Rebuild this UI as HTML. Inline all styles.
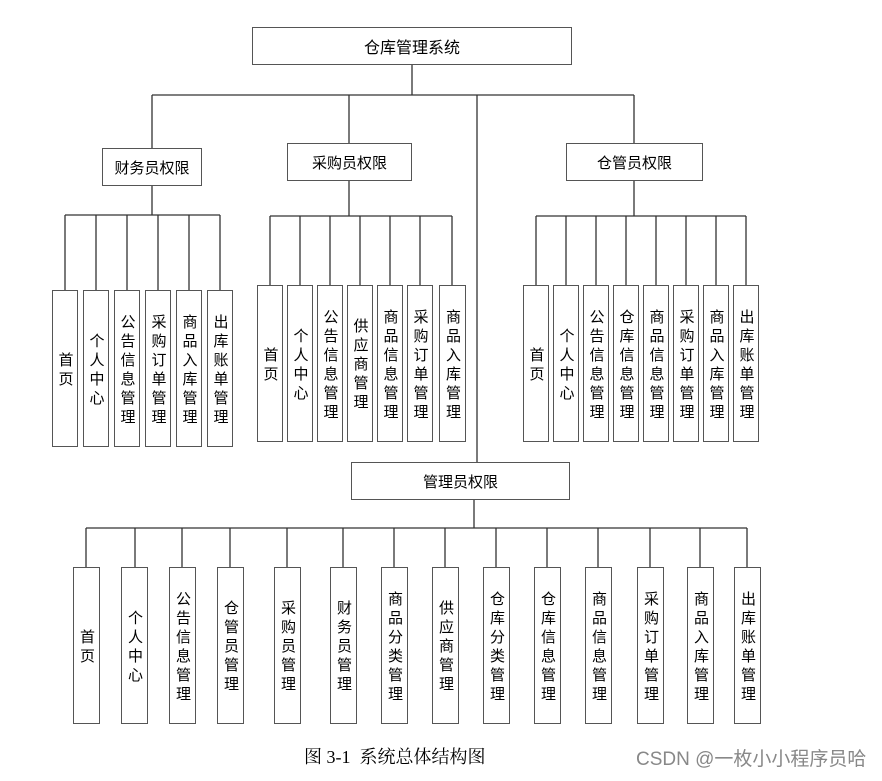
<!DOCTYPE html>
<html><head><meta charset="utf-8"><style>
body{margin:0;background:#fff;}
#c{position:relative;width:882px;height:781px;overflow:hidden;font-family:"Liberation Sans","Noto Sans CJK SC",sans-serif;color:#000;}
.b{position:absolute;box-sizing:border-box;border:1.6px solid #555;background:#fff;display:flex;align-items:center;justify-content:center;font-size:15px;}
.v{position:absolute;box-sizing:border-box;border:1.6px solid #555;background:#fff;display:flex;align-items:center;justify-content:center;font-size:15px;}
.v span{writing-mode:vertical-rl;text-orientation:upright;letter-spacing:4px;line-height:1;margin-top:4px;}
svg{position:absolute;left:0;top:0;}
</style></head><body><div id="c">
<svg width="882" height="781" stroke="#333" stroke-width="1.3" fill="none">
<line x1="412" y1="65" x2="412" y2="95"/>
<line x1="152" y1="95" x2="634" y2="95"/>
<line x1="152" y1="95" x2="152" y2="148"/>
<line x1="349" y1="95" x2="349" y2="143"/>
<line x1="477" y1="95" x2="477" y2="462"/>
<line x1="634" y1="95" x2="634" y2="143"/>
<line x1="152" y1="185" x2="152" y2="215"/>
<line x1="65" y1="215" x2="220" y2="215"/>
<line x1="65" y1="215" x2="65" y2="290"/><line x1="96" y1="215" x2="96" y2="290"/><line x1="127" y1="215" x2="127" y2="290"/><line x1="158" y1="215" x2="158" y2="290"/><line x1="189" y1="215" x2="189" y2="290"/><line x1="220" y1="215" x2="220" y2="290"/>
<line x1="349" y1="180" x2="349" y2="216"/>
<line x1="270" y1="216" x2="452" y2="216"/>
<line x1="270" y1="216" x2="270" y2="285"/><line x1="300" y1="216" x2="300" y2="285"/><line x1="330" y1="216" x2="330" y2="285"/><line x1="360" y1="216" x2="360" y2="285"/><line x1="390" y1="216" x2="390" y2="285"/><line x1="420" y1="216" x2="420" y2="285"/><line x1="452" y1="216" x2="452" y2="285"/>
<line x1="634" y1="180" x2="634" y2="216"/>
<line x1="536" y1="216" x2="746" y2="216"/>
<line x1="536" y1="216" x2="536" y2="285"/><line x1="566" y1="216" x2="566" y2="285"/><line x1="596" y1="216" x2="596" y2="285"/><line x1="626" y1="216" x2="626" y2="285"/><line x1="656" y1="216" x2="656" y2="285"/><line x1="686" y1="216" x2="686" y2="285"/><line x1="716" y1="216" x2="716" y2="285"/><line x1="746" y1="216" x2="746" y2="285"/>
<line x1="474" y1="499" x2="474" y2="528"/>
<line x1="86" y1="528" x2="747" y2="528"/>
<line x1="86" y1="528" x2="86" y2="567"/><line x1="135" y1="528" x2="135" y2="567"/><line x1="182" y1="528" x2="182" y2="567"/><line x1="230" y1="528" x2="230" y2="567"/><line x1="287" y1="528" x2="287" y2="567"/><line x1="343" y1="528" x2="343" y2="567"/><line x1="394" y1="528" x2="394" y2="567"/><line x1="445" y1="528" x2="445" y2="567"/><line x1="496" y1="528" x2="496" y2="567"/><line x1="547" y1="528" x2="547" y2="567"/><line x1="598" y1="528" x2="598" y2="567"/><line x1="650" y1="528" x2="650" y2="567"/><line x1="700" y1="528" x2="700" y2="567"/><line x1="747" y1="528" x2="747" y2="567"/>
</svg>

<div class="b" style="left:252px;top:27px;width:320px;height:38px;font-size:16px;">仓库管理系统</div>
<div class="b" style="left:102px;top:148px;width:100px;height:38px;">财务员权限</div>
<div class="b" style="left:287px;top:143px;width:125px;height:38px;">采购员权限</div>
<div class="b" style="left:566px;top:143px;width:137px;height:38px;">仓管员权限</div>
<div class="b" style="left:351px;top:462px;width:219px;height:38px;">管理员权限</div>

<div class="v" style="left:52px;top:290px;width:26px;height:157px;"><span>首页</span></div>
<div class="v" style="left:83px;top:290px;width:26px;height:157px;"><span>个人中心</span></div>
<div class="v" style="left:114px;top:290px;width:26px;height:157px;"><span>公告信息管理</span></div>
<div class="v" style="left:145px;top:290px;width:26px;height:157px;"><span>采购订单管理</span></div>
<div class="v" style="left:176px;top:290px;width:26px;height:157px;"><span>商品入库管理</span></div>
<div class="v" style="left:207px;top:290px;width:26px;height:157px;"><span>出库账单管理</span></div>

<div class="v" style="left:257px;top:285px;width:26px;height:157px;"><span>首页</span></div>
<div class="v" style="left:287px;top:285px;width:26px;height:157px;"><span>个人中心</span></div>
<div class="v" style="left:317px;top:285px;width:26px;height:157px;"><span>公告信息管理</span></div>
<div class="v" style="left:347px;top:285px;width:26px;height:157px;"><span>供应商管理</span></div>
<div class="v" style="left:377px;top:285px;width:26px;height:157px;"><span>商品信息管理</span></div>
<div class="v" style="left:407px;top:285px;width:26px;height:157px;"><span>采购订单管理</span></div>
<div class="v" style="left:439px;top:285px;width:27px;height:157px;"><span>商品入库管理</span></div>

<div class="v" style="left:523px;top:285px;width:26px;height:157px;"><span>首页</span></div>
<div class="v" style="left:553px;top:285px;width:26px;height:157px;"><span>个人中心</span></div>
<div class="v" style="left:583px;top:285px;width:26px;height:157px;"><span>公告信息管理</span></div>
<div class="v" style="left:613px;top:285px;width:26px;height:157px;"><span>仓库信息管理</span></div>
<div class="v" style="left:643px;top:285px;width:26px;height:157px;"><span>商品信息管理</span></div>
<div class="v" style="left:673px;top:285px;width:26px;height:157px;"><span>采购订单管理</span></div>
<div class="v" style="left:703px;top:285px;width:26px;height:157px;"><span>商品入库管理</span></div>
<div class="v" style="left:733px;top:285px;width:26px;height:157px;"><span>出库账单管理</span></div>

<div class="v" style="left:73px;top:567px;width:27px;height:157px;"><span>首页</span></div>
<div class="v" style="left:121px;top:567px;width:27px;height:157px;"><span>个人中心</span></div>
<div class="v" style="left:169px;top:567px;width:27px;height:157px;"><span>公告信息管理</span></div>
<div class="v" style="left:217px;top:567px;width:27px;height:157px;"><span>仓管员管理</span></div>
<div class="v" style="left:274px;top:567px;width:27px;height:157px;"><span>采购员管理</span></div>
<div class="v" style="left:330px;top:567px;width:27px;height:157px;"><span>财务员管理</span></div>
<div class="v" style="left:381px;top:567px;width:27px;height:157px;"><span>商品分类管理</span></div>
<div class="v" style="left:432px;top:567px;width:27px;height:157px;"><span>供应商管理</span></div>
<div class="v" style="left:483px;top:567px;width:27px;height:157px;"><span>仓库分类管理</span></div>
<div class="v" style="left:534px;top:567px;width:27px;height:157px;"><span>仓库信息管理</span></div>
<div class="v" style="left:585px;top:567px;width:27px;height:157px;"><span>商品信息管理</span></div>
<div class="v" style="left:637px;top:567px;width:27px;height:157px;"><span>采购订单管理</span></div>
<div class="v" style="left:687px;top:567px;width:27px;height:157px;"><span>商品入库管理</span></div>
<div class="v" style="left:734px;top:567px;width:27px;height:157px;"><span>出库账单管理</span></div>

<div style="position:absolute;left:304px;top:745px;font-family:'Liberation Serif','Noto Serif CJK SC',serif;font-size:18px;white-space:nowrap;line-height:24px;">图 3-1&nbsp; 系统总体结构图</div>
<div style="position:absolute;left:636px;top:748px;font-size:19px;color:#888;white-space:nowrap;line-height:24px;">CSDN @一枚小小程序员哈</div>
</div></body></html>
